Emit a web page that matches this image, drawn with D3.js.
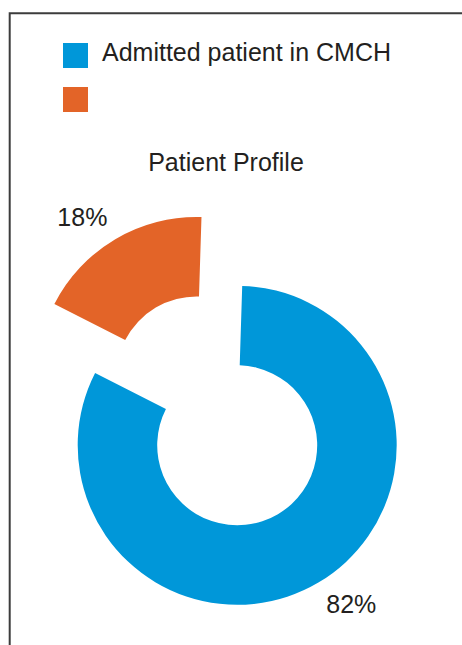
<!DOCTYPE html>
<html>
<head>
<meta charset="utf-8">
<script src="https://cdn.jsdelivr.net/npm/d3@7"></script>
<style>
  html, body { margin: 0; padding: 0; background: #fff; }
  svg { display: block; }
  text { font-family: "Liberation Sans", Arial, sans-serif; fill: #231f20; }
</style>
</head>
<body>
<svg id="chart" width="462" height="645"></svg>
<script>
// ---- data ----
const categories = ["Admitted patient in CMCH", ""];
const values = [82, 18];
const labels = ["82%", "18%"];
const colors = ["#0097d9", "#e36428"];
const title = "Patient Profile";

// ---- layout ----
const W = 462, H = 645;
const cx = 237.2, cy = 445.3;
const rOuter = 159.5, rInner = 80;
const explode = [0, 80];
const rot = 1.8 * Math.PI / 180;
const labelR = 196, labelShift = -5 * Math.PI / 180;

const svg = d3.select("#chart");

// frame
svg.append("path")
  .attr("d", `M9.7,${H + 5} L9.7,13.3 L${W + 5},13.3`)
  .attr("fill", "none")
  .attr("stroke", "#3c3c3c")
  .attr("stroke-width", 2);

// legend
const legend = svg.append("g");
categories.forEach((c, i) => {
  const y = 43 + i * 44;
  legend.append("rect")
    .attr("x", 63).attr("y", y)
    .attr("width", 25).attr("height", 25)
    .attr("fill", colors[i]);
  legend.append("text")
    .attr("x", 102).attr("y", y + 18)
    .attr("font-size", 25)
    .text(c);
});

// title
svg.append("text")
  .attr("x", 226).attr("y", 171)
  .attr("text-anchor", "middle")
  .attr("font-size", 25)
  .text(title);

// pie
const pie = d3.pie().sort(null).value(d => d)
  .startAngle(rot).endAngle(rot + 2 * Math.PI);
const arcs = pie(values);
const arc = d3.arc().innerRadius(rInner).outerRadius(rOuter);

const g = svg.append("g").attr("transform", `translate(${cx},${cy})`);

arcs.forEach((a, i) => {
  const mid = (a.startAngle + a.endAngle) / 2;
  const ox = Math.sin(mid) * explode[i];
  const oy = -Math.cos(mid) * explode[i];
  const sg = g.append("g").attr("transform", `translate(${ox},${oy})`);
  sg.append("path")
    .attr("d", arc(a))
    .attr("fill", colors[i]);
  const la = mid + labelShift;
  sg.append("text")
    .attr("x", Math.sin(la) * labelR)
    .attr("y", -Math.cos(la) * labelR)
    .attr("dy", "0.35em")
    .attr("text-anchor", "middle")
    .attr("font-size", 25)
    .text(labels[i]);
});
</script>
</body>
</html>
